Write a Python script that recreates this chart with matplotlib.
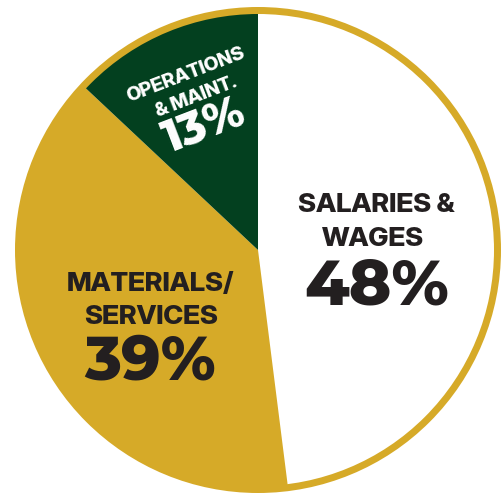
import matplotlib
matplotlib.use("Agg")
import matplotlib.pyplot as plt
from matplotlib.patches import Circle

categories = ["SALARIES &\nWAGES", "MATERIALS/\nSERVICES", "OPERATIONS\n& MAINT."]
values = [48, 39, 13]
pct_labels = ["48%", "39%", "13%"]
colors = ["#FFFFFF", "#D6AA28", "#03401F"]
GOLD = "#D6AA28"
TEXT = "#231F20"

W, H = 501, 495
fig = plt.figure(figsize=(W / 100, H / 100), dpi=100)
ax = fig.add_axes([0, 0, 1, 1])

cx, cy = 258, H - 250
R = 240
ax.pie(values, colors=colors, startangle=90, counterclock=False, radius=R,
       center=(cx, cy), wedgeprops=dict(linewidth=0), frame=True)
ax.set_xlim(0, W)
ax.set_ylim(0, H)
ax.set_aspect("equal")
ax.axis("off")
ax.add_patch(Circle((cx, cy), 239.5, fill=False, edgecolor=GOLD, linewidth=7 * 0.72))

WORD_FAM = ["Inter Display", "DejaVu Sans"]
NUM_FAM = ["Montserrat Alternates", "DejaVu Sans"]

def T(x, y, s, size, color, fam, rot=0):
    ax.text(x, H - y, s, fontsize=size, color=color, ha="center", va="center_baseline",
            family=fam, fontweight=800, rotation=rot, rotation_mode="anchor")

def label_block(i, ys, wsize, psize, color, rot=0):
    lines = categories[i].split("\n")
    for ln, (lx, ly) in zip(lines, ys[:-1]):
        T(lx, ly, ln, wsize, color, WORD_FAM, rot)
    px, py = ys[-1]
    T(px, py, pct_labels[i], psize, color, NUM_FAM, rot)

# Salaries & wages
label_block(0, [(376, 203), (373, 236), (377, 281)], 19.5, 46, TEXT)
# Materials / services
label_block(1, [(150, 282), (151, 314), (150, 356)], 19.5, 44, TEXT)
# Operations & maint.
label_block(2, [(185, 73), (195, 95), (203, 123)], 14, 32, "white", rot=21)

fig.savefig("out.png", dpi=100)
